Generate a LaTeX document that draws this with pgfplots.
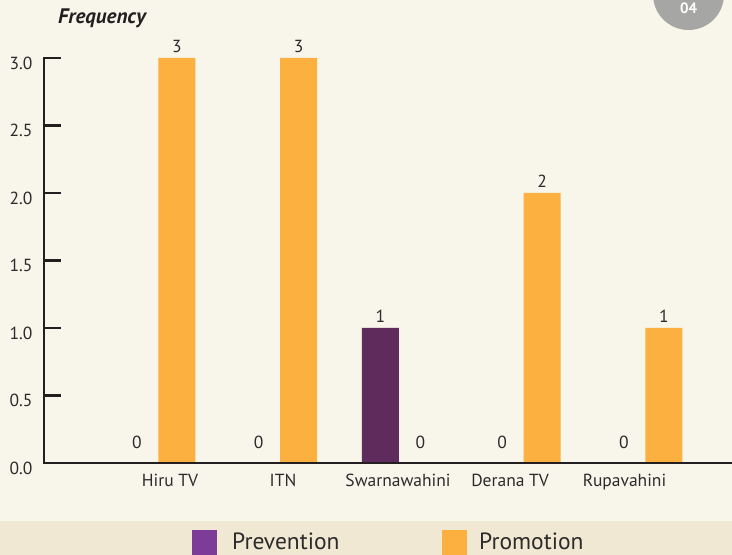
\documentclass[border=0pt]{standalone}
\usepackage{fontspec}
\setmainfont{PT Sans}
\usepackage{pgfplots}
\pgfplotsset{compat=1.18}

\definecolor{pagebg}{HTML}{F8F5EA}
\definecolor{bandbg}{HTML}{F1E8D3}
\definecolor{preventc}{HTML}{5E2B5C}
\definecolor{preventkey}{HTML}{7D3C98}
\definecolor{promoc}{HTML}{FBB040}
\definecolor{axisc}{HTML}{231F20}
\definecolor{txt}{HTML}{2B2B2B}
\definecolor{badge}{HTML}{A6A6A4}

\newcommand{\ticksize}{\fontsize{17.5bp}{20bp}\selectfont}

\begin{document}
\begin{tikzpicture}
\useasboundingbox (0,0) rectangle (732bp,555bp);
\begin{scope}
\clip (0,0) rectangle (732bp,555bp);
\fill[pagebg] (0,0) rectangle (732bp,555bp);
\fill[bandbg] (0,0) rectangle (732bp,34bp);

\begin{axis}[
  at={(44bp,92bp)}, anchor=south west,
  scale only axis, width=688bp, height=405bp,
  xmin=-0.928, xmax=4.723, ymin=0, ymax=3,
  enlargelimits=false, clip=false,
  axis x line*=bottom, axis y line*=left,
  axis line style={line width=2.5bp, draw=axisc, -},
  ybar, bar width=37bp,
  ytick={0,0.5,1,1.5,2,2.5,3},
  yticklabel style={/pgf/number format/fixed, /pgf/number format/fixed zerofill,
    /pgf/number format/precision=1, xshift=-8bp, yshift=-5bp},
  /pgf/number format/assume math mode=true,
  tick align=inside,
  major tick length=17bp,
  ytick style={line width=2.5bp, color=axisc},
  xtick={0.107,1.035,1.98,2.9,3.84},
  xticklabels={Hiru TV, ITN, Swarnawahini, Derana TV, Rupavahini},
  xtick style={draw=none},
  tick label style={font=\ticksize, text=txt},
  xticklabel style={yshift=-8bp},
  nodes near coords,
  visualization depends on={y \as \rawy},
  every node near coord/.append style={font=\ticksize, text=txt, anchor=south,
    yshift={ifthenelse(\rawy==0,11,2)}},
]
\addplot[fill=preventc, draw=none, bar shift=-20bp]
  coordinates {(0,0) (1,0) (2,1) (3,0) (4,0)};
\addplot[fill=promoc, draw=none, bar shift=20bp]
  coordinates {(0,3) (1,3) (2,0) (3,2) (4,1)};
% axis lines, drawn again so they keep their weight
\draw[line width=2.6bp, axisc, line cap=rect]
  (rel axis cs:0,1) -- (rel axis cs:0,0) -- (rel axis cs:1,0);
\end{axis}

% title
\node[anchor=base west, inner sep=0pt, font=\fontsize{21bp}{24bp}\selectfont\bfseries\itshape, text=axisc]
  at (58bp,531bp) {Frequency};

% page badge
\fill[badge] (688.5bp,560.5bp) circle (35.5bp);
\node[font=\fontsize{15bp}{18bp}\selectfont\bfseries, text=white] at (688.5bp,547bp) {04};

% legend
\fill[preventkey] (192bp,0) rectangle (217bp,25bp);
\node[anchor=base west, font=\fontsize{23.5bp}{27bp}\selectfont, text=txt, inner sep=0pt]
  at (232bp,5.5bp) {Prevention};
\fill[promoc] (442bp,0) rectangle (467bp,25bp);
\node[anchor=base west, font=\fontsize{23.5bp}{27bp}\selectfont, text=txt, inner sep=0pt]
  at (479bp,5.5bp) {Promotion};
\end{scope}
\end{tikzpicture}
\end{document}
